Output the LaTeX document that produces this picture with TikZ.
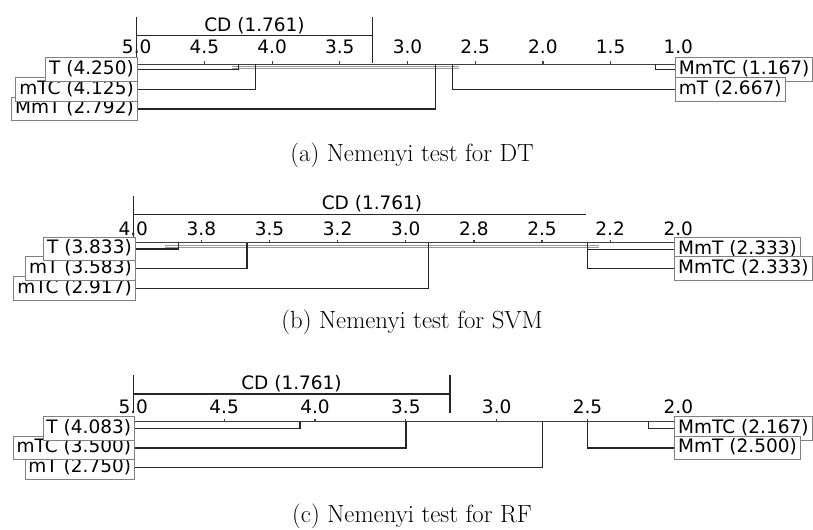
\documentclass[tikz,border=0pt]{standalone}
\usepackage{fontspec}
\newfontfamily\dv{DejaVu Sans}
\begin{document}
\begin{tikzpicture}[x=0.75pt,y=-0.75pt,
  lab/.style={font=\dv\fontsize{13.875}{16}\selectfont, draw=black!50, line width=0.7pt, fill=white,
    inner xsep=2.6pt, inner ysep=1.95pt, text height=10.5pt, text depth=3.3pt},
  tk/.style={font=\dv\fontsize{13.875}{16}\selectfont, anchor=base, inner sep=0pt},
  axisline/.style={draw=black!75, line width=0.9pt},
  rowline/.style={draw=black!85, line width=0.9pt},
  clq/.style={draw=black!40, line width=0.5pt, double=white, double distance=1pt},
  cdline/.style={draw=black!85, line width=0.9pt},
  captext/.style={font=\fontsize{18.6}{22}\selectfont, anchor=base, inner sep=0pt}]
\useasboundingbox (0,0) rectangle (813,529);

% ================= Panel (a) =================
\coordinate (a0) at (136.7,64.3);
\coordinate (a1) at (678.3,64.3);
\draw[axisline] (a0) -- (a1);
\foreach \r/\lb [count=\i] in {5/5.0,4.5/4.5,4/4.0,3.5/3.5,3/3.0,2.5/2.5,2/2.0,1.5/1.5,1/1.0}{
  \draw[axisline] ({136.7+(5-\r)*135.4},64.3) -- ++(0,-3);
  \node[tk] (ta\i) at ({136.7+(5-\r)*135.4},53.3) {\lb};
}
\coordinate (cdaL) at (136.7,35.7);
\coordinate (cdaR) at (372.3,35.7);
\draw[cdline] (136.7,16.7) -- (136.7,63.3);
\draw[cdline] (372.3,16.7) -- (372.3,63.3);
\draw[cdline] (cdaL) -- (cdaR);
\node[tk] (cda) at (254.5,31.7) {CD (1.761)};
\draw[clq] (231.5,67.3) -- (459.4,67.3);
\draw[clq] (428.9,71) -- (662.5,71);

\node[lab, anchor=east] (aMmT) at (137.7,108.9) {MmT (2.792)};
\node[lab, anchor=east] (amTC) at (137.7,89.3) {mTC (4.125)};
\node[lab, anchor=east] (aT) at (137.7,69.7) {T (4.250)};
\node[lab, anchor=west] (aMmTC) at (675,69.7) {MmTC (1.167)};
\node[lab, anchor=west] (amT) at (675,89.3) {mT (2.667)};

\coordinate (paT) at (238.25,64.3);
\coordinate (pamTC) at (255.2,64.3);
\coordinate (paMmT) at (435.7,64.3);
\coordinate (paMmTC) at (655.7,64.3);
\coordinate (pamT) at (452.6,64.3);
\draw[rowline] (paT) |- (aT.east);
\draw[rowline] (pamTC) |- (amTC.east);
\draw[rowline] (paMmT) |- (aMmT.east);
\draw[rowline] (paMmTC) |- (aMmTC.west);
\draw[rowline] (pamT) |- (amT.west);

\node[captext] (capa) at (412,161) {(a) Nemenyi test for DT};

% ================= Panel (b) =================
\coordinate (b0) at (133.3,242.7);
\coordinate (b1) at (678.3,242.7);
\draw[axisline] (b0) -- (b1);
\foreach \r/\lb [count=\i] in {4/4.0,3.75/3.8,3.5/3.5,3.25/3.2,3/3.0,2.75/2.8,2.5/2.5,2.25/2.2,2/2.0}{
  \draw[axisline] ({133.3+(4-\r)*272.5},242.7) -- ++(0,-3);
  \node[tk] (tb\i) at ({133.3+(4-\r)*272.5},235) {\lb};
}
\coordinate (cdbL) at (133.3,214.3);
\coordinate (cdbR) at (585.7,214.3);
\draw[cdline] (133.3,196) -- (133.3,240);
\draw[cdline] (cdbL) -- (cdbR);
\node[tk] (cdb) at (372,209.3) {CD (1.761)};
\draw[clq] (165,246.7) -- (599.3,246.7);

\node[lab, anchor=east] (bmTC) at (135.7,288.3) {mTC (2.917)};
\node[lab, anchor=east] (bmT) at (135.7,268.7) {mT (3.583)};
\node[lab, anchor=east] (bT) at (135.7,249) {T (3.833)};
\node[lab, anchor=west] (bMmT) at (674.3,249.5) {MmT (2.333)};
\node[lab, anchor=west] (bMmTC) at (674.3,268.7) {MmTC (2.333)};

\coordinate (pbT) at (178.8,242.7);
\coordinate (pbmT) at (246.9,242.7);
\coordinate (pbmTC) at (428.5,242.7);
\coordinate (pbMmT) at (587.5,242.7);
\draw[rowline] (pbT) |- (bT.east);
\draw[rowline] (pbmT) |- (bmT.east);
\draw[rowline] (pbmTC) |- (bmTC.east);
\draw[rowline] (pbMmT) |- (bMmT.west);
\draw[rowline] (pbMmT) |- (bMmTC.west);

\node[captext] (capb) at (412,328.5) {(b) Nemenyi test for SVM};

% ================= Panel (c) =================
\coordinate (c0) at (133.3,421.7);
\coordinate (c1) at (678.3,421.7);
\draw[axisline] (c0) -- (c1);
\foreach \r/\lb [count=\i] in {5/5.0,4.5/4.5,4/4.0,3.5/3.5,3/3.0,2.5/2.5,2/2.0}{
  \draw[axisline] ({133.3+(5-\r)*181.7},421.7) -- ++(0,-3);
  \node[tk] (tc\i) at ({133.3+(5-\r)*181.7},413.7) {\lb};
}
\coordinate (cdcL) at (133.3,394);
\coordinate (cdcR) at (450,394);
\draw[cdline] (133.3,375) -- (133.3,412.7);
\draw[cdline] (450,375) -- (450,412.7);
\draw[cdline] (cdcL) -- (cdcR);
\node[tk] (cdc) at (291.5,389.7) {CD (1.761)};
\draw[clq] (290.8,426) -- (595,426);
\draw[clq] (396.7,430) -- (657.2,430);

\node[lab, anchor=east] (cmT) at (135,467.7) {mT (2.750)};
\node[lab, anchor=east] (cmTC) at (135,448) {mTC (3.500)};
\node[lab, anchor=east] (cT) at (135,428.3) {T (4.083)};
\node[lab, anchor=west] (cMmTC) at (674.3,428.3) {MmTC (2.167)};
\node[lab, anchor=west] (cMmT) at (674.3,448) {MmT (2.500)};

\coordinate (pcT) at (299.9,421.7);
\coordinate (pcmTC) at (405.9,421.7);
\coordinate (pcmT) at (542.1,421.7);
\coordinate (pcMmT) at (587.6,421.7);
\coordinate (pcMmTC) at (648.1,421.7);
\draw[rowline] (pcT) |- (cT.east);
\draw[rowline] (pcmTC) |- (cmTC.east);
\draw[rowline] (pcmT) |- (cmT.east);
\draw[rowline] (pcMmT) |- (cMmT.west);
\draw[rowline] (pcMmTC) |- (cMmTC.west);

\node[captext] (capc) at (412,522.5) {(c) Nemenyi test for RF};
\end{tikzpicture}
\end{document}
